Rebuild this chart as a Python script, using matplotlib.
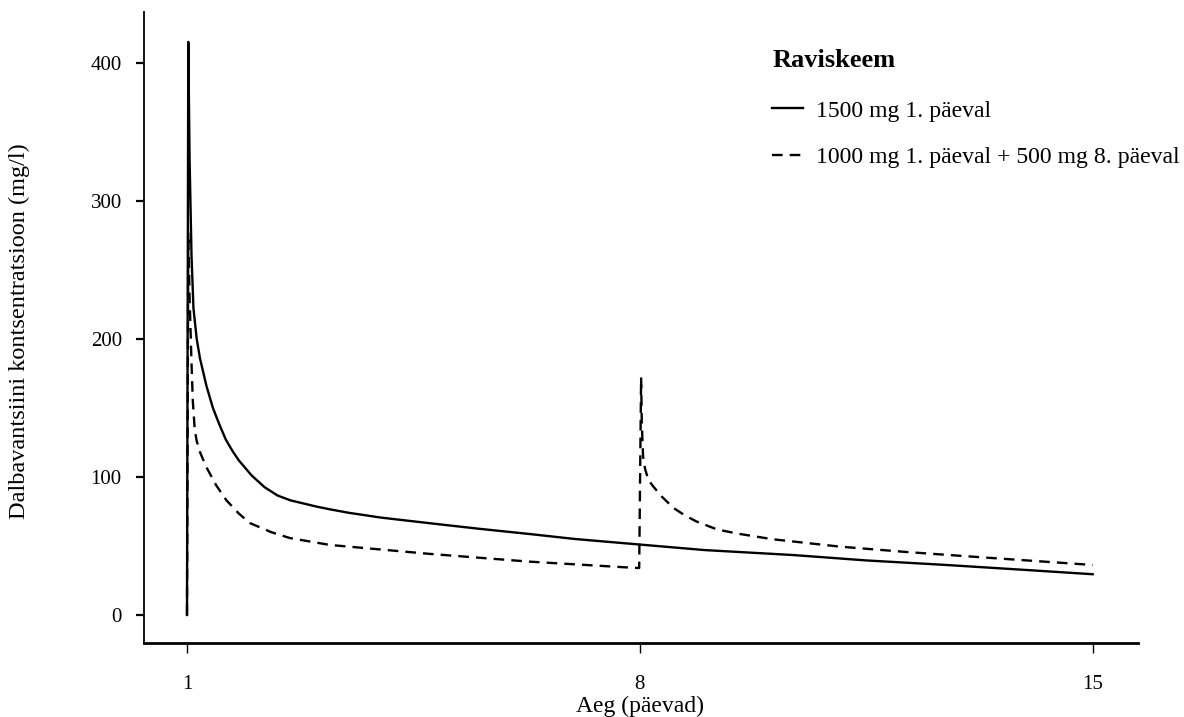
import matplotlib
matplotlib.use("Agg")
import matplotlib.pyplot as plt

plt.rcParams['font.family'] = ['Liberation Serif', 'DejaVu Serif']

# Series 1: 1500 mg on day 1
days_a = [1.0, 1.02, 1.04, 1.07, 1.10, 1.15, 1.2, 1.3, 1.4, 1.5, 1.6, 1.7, 1.8, 2.0,
          2.2, 2.4, 2.6, 3.0, 3.21, 3.5, 4.0, 4.76, 5.5, 6.3, 7.0, 8.0, 9.0, 10.37,
          11.5, 12.74, 14.0, 15.0]
conc_a = [0, 415, 330, 260, 222, 200, 186, 166, 150, 138, 127, 119, 112, 101,
          92.5, 86.5, 83, 78.5, 76.5, 74, 70.5, 66.4, 62.5, 58.6, 55, 51, 47, 43.4,
          39.5, 36.2, 32.5, 29.5]

# Series 2: 1000 mg day 1 + 500 mg day 8
days_b = [1.0, 1.02, 1.04, 1.07, 1.09, 1.12, 1.15, 1.2, 1.30, 1.45, 1.61, 1.8, 1.97,
          2.3, 2.59, 3.21, 4.76, 6.3, 7.85, 7.99, 8.02, 8.03, 8.05, 8.08, 8.13, 8.2,
          8.34, 8.52, 8.7, 8.88, 9.19, 9.5, 10.06, 11.09, 12.12, 13.15, 15.0]
conc_b = [0, 277, 230, 182, 155, 134, 126, 118, 107, 94, 83, 73.5, 66.6,
          60, 55.7, 50.7, 44.2, 38.6, 34.3, 34, 172, 140, 115, 106, 98, 93.5,
          85.7, 77.5, 72, 67.6, 62, 59, 54.8, 49.5, 45.6, 42.2, 36.2]

label_a = "1500 mg 1. päeval"
label_b = "1000 mg 1. päeval + 500 mg 8. päeval"
x_ticks = [1, 8, 15]
y_ticks = [0, 100, 200, 300, 400]

fig = plt.figure(figsize=(11.84, 7.17), dpi=100)
ax = fig.add_axes([0.1216, 0.1032, 0.8395, 0.880])

ax.plot(days_a, conc_a, color='black', lw=1.7, label=label_a)
ax.plot(days_b, conc_b, color='black', lw=1.7, linestyle=(0, (4.5, 3)), label=label_b)

ax.set_xlim(0.335, 15.7)
ax.set_ylim(-20.3, 436.6)
ax.set_xticks(x_ticks)
ax.set_yticks(y_ticks)
ax.spines['top'].set_visible(False)
ax.spines['right'].set_visible(False)
ax.spines['left'].set_linewidth(1.3)
ax.spines['bottom'].set_linewidth(2.0)
ax.tick_params(axis='x', length=7, width=1.0, pad=16, labelsize=15)
ax.tick_params(axis='y', length=6, width=1.6, pad=10, labelsize=15)

ax.set_xlabel("Aeg (päevad)", fontsize=17, va='center')
ax.xaxis.set_label_coords(640/1184, 1-706/717, transform=fig.transFigure)
ax.set_ylabel("Dalbavantsiini kontsentratsioon (mg/l)", fontsize=17.5, va='center')
ax.yaxis.set_label_coords(19/1184, 1-331/717, transform=fig.transFigure)

leg = ax.legend(loc='upper left', bbox_to_anchor=(751/1184, 1-28/717),
                bbox_transform=fig.transFigure, frameon=False, fontsize=17.1,
                title="Raviskeem", title_fontproperties={'weight': 'bold', 'size': 19},
                alignment='left', handlelength=1.27, handletextpad=0.58,
                labelspacing=1.05)
leg._legend_box.sep = 20

fig.savefig("out.png", dpi=100)
